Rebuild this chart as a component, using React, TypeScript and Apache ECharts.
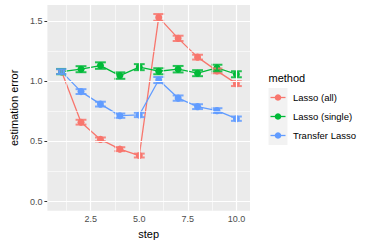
import React, { useEffect, useRef } from "react";
import * as echarts from "echarts";

const steps = [1, 2, 3, 4, 5, 6, 7, 8, 9, 10];
const lassoAll = [1.08, 0.66, 0.517, 0.436, 0.383, 1.53, 1.356, 1.2, 1.086, 0.98];
const lassoAllErr = [0.02, 0.02, 0.016, 0.016, 0.016, 0.028, 0.022, 0.02, 0.02, 0.02];
const lassoSingle = [1.08, 1.1, 1.13, 1.047, 1.117, 1.083, 1.1, 1.067, 1.11, 1.058];
const lassoSingleErr = [0.022, 0.025, 0.027, 0.027, 0.025, 0.025, 0.027, 0.025, 0.027, 0.025];
const transfer = [1.08, 0.914, 0.81, 0.714, 0.72, 1.01, 0.86, 0.789, 0.756, 0.689];
const transferErr = [0.02, 0.02, 0.02, 0.018, 0.018, 0.025, 0.022, 0.02, 0.02, 0.018];

const methods = ["Lasso (all)", "Lasso (single)", "Transfer Lasso"];
const colors = ["#F8766D", "#00BA38", "#619CFF"];
const xTicks = [2.5, 5, 7.5, 10];
const xMinor = [1.25, 3.75, 6.25, 8.75];
const yTicks = [0, 0.5, 1, 1.5];
const yMinor = [0.25, 0.75, 1.25];

const FONT = "Liberation Sans, Arial, Helvetica, sans-serif";

export default function App() {
  const ref = useRef<HTMLDivElement>(null);
  useEffect(() => {
    if (!ref.current) return;
    const chart = echarts.init(ref.current, null, { renderer: "svg" });
    const values = [lassoAll, lassoSingle, transfer];
    const errs = [lassoAllErr, lassoSingleErr, transferErr];

    const gridLines = (vals: number[], axis: "xAxis" | "yAxis", width: number) =>
      vals.map((v) => ({ [axis]: v, lineStyle: { color: "#FFFFFF", width, type: "solid" } }));

    const series: any[] = [
      {
        type: "line",
        data: [],
        z: 1,
        silent: true,
        markLine: {
          silent: true,
          symbol: "none",
          animation: false,
          label: { show: false },
          emphasis: { disabled: true },
          data: [
            ...gridLines(xMinor, "xAxis", 0.6),
            ...gridLines(yMinor, "yAxis", 0.6),
            ...gridLines(xTicks, "xAxis", 1.2),
            ...gridLines(yTicks, "yAxis", 1.2),
          ],
        },
      },
    ];

    methods.forEach((m, i) => {
      series.push({
        name: m,
        type: "line",
        z: 3,
        data: steps.map((s, j) => [s, values[i][j]]),
        symbol: "circle",
        symbolSize: 7,
        lineStyle: { color: colors[i], width: 1.3 },
        itemStyle: { color: colors[i] },
      });
      series.push({
        name: m + " err",
        type: "custom",
        z: 4,
        data: steps.map((s, j) => [s, values[i][j] - errs[i][j], values[i][j] + errs[i][j]]),
        renderItem: (params: any, api: any) => {
          const x = api.value(0);
          const lo = api.coord([x, api.value(1)]);
          const hi = api.coord([x, api.value(2)]);
          const hw = api.size([0.28, 0])[0];
          const style = { stroke: colors[i], lineWidth: 2, opacity: 0.85 };
          return {
            type: "group",
            children: [
              { type: "line", shape: { x1: lo[0], y1: lo[1], x2: hi[0], y2: hi[1] }, style },
              { type: "line", shape: { x1: lo[0] - hw, y1: lo[1], x2: lo[0] + hw, y2: lo[1] }, style },
              { type: "line", shape: { x1: hi[0] - hw, y1: hi[1], x2: hi[0] + hw, y2: hi[1] }, style },
            ],
          };
        },
      });
    });

    const legendTop = 88;
    const keySize = 19;
    const keyX = 268.5;
    const graphic: any[] = [
      {
        type: "text",
        left: keyX,
        top: 72,
        style: { text: "method", fontSize: 11, fontFamily: FONT, fill: "#000000" },
      },
    ];
    methods.forEach((m, i) => {
      const cy = legendTop + i * keySize + keySize / 2;
      graphic.push({
        type: "rect",
        shape: { x: keyX, y: legendTop + i * keySize, width: keySize, height: keySize },
        style: { fill: "#F2F2F2" },
      });
      graphic.push({
        type: "line",
        shape: { x1: keyX + 2, y1: cy, x2: keyX + keySize - 2, y2: cy },
        style: { stroke: colors[i], lineWidth: 1.3 },
      });
      graphic.push({
        type: "circle",
        shape: { cx: keyX + keySize / 2, cy, r: 3.3 },
        style: { fill: colors[i] },
      });
      graphic.push({
        type: "text",
        x: 293,
        y: cy,
        style: {
          text: m,
          fontSize: 9.5,
          fontFamily: FONT,
          fill: "#000000",
          verticalAlign: "middle",
        },
      });
    });

    chart.setOption({
      animation: false,
      textStyle: { fontFamily: FONT },
      grid: {
        left: 39,
        right: 119,
        top: 5,
        bottom: 34.3,
        show: true,
        backgroundColor: "#EBEBEB",
        borderWidth: 0,
      },
      xAxis: {
        type: "value",
        min: 0.27,
        max: 10.7,
        name: "step",
        nameLocation: "middle",
        nameGap: 16,
        nameTextStyle: { fontSize: 11, color: "#000000", verticalAlign: "top" },
        axisLine: { show: false },
        splitLine: { show: false },
        axisTick: { show: true, customValues: xTicks, length: 3, lineStyle: { color: "#333333" } },
        axisLabel: {
          customValues: xTicks,
          formatter: (v: number) => v.toFixed(1),
          fontSize: 9,
          color: "#4D4D4D",
          margin: 4,
        },
      },
      yAxis: {
        type: "value",
        min: -0.075,
        max: 1.633,
        name: "estimation error",
        nameLocation: "middle",
        nameGap: 27,
        nameTextStyle: { fontSize: 11, color: "#000000" },
        axisLine: { show: false },
        splitLine: { show: false },
        axisTick: { show: true, customValues: yTicks, length: 3, lineStyle: { color: "#333333" } },
        axisLabel: {
          customValues: yTicks,
          formatter: (v: number) => v.toFixed(1),
          fontSize: 9,
          color: "#4D4D4D",
          margin: 5,
        },
      },
      series,
      graphic,
    });
    return () => chart.dispose();
  }, []);
  return (
    <div
      ref={ref}
      style={{ position: "fixed", left: 0, top: 0, width: 369, height: 245, background: "#FFFFFF" }}
    />
  );
}
